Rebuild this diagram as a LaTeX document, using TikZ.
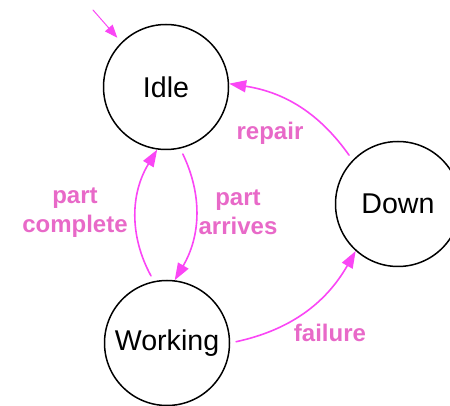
\documentclass[tikz,border=0pt]{standalone}
\usepackage{fontspec}
\setmainfont{Liberation Sans}
\usetikzlibrary{arrows.meta}
\definecolor{arccol}{RGB}{250,70,245}
\definecolor{labcol}{RGB}{232,105,200}
\tikzset{
  state/.style={circle, draw, line width=0.75pt, minimum size=62.5pt, inner sep=0pt,
    font=\fontsize{14.3}{17}\selectfont},
  arc/.style={arccol, line width=0.8pt, shorten <=3pt, -{Triangle[length=8.5pt,width=6pt]}},
  lab/.style={labcol, align=center, font=\fontsize{12}{14.5}\selectfont\bfseries}
}
\begin{document}
\begin{tikzpicture}[x=0.5pt, y=-0.5pt, line join=round, line cap=round]
\useasboundingbox (0,0) rectangle (450,406);
% states
\node[state] (idle) at (166,87) {Idle};
\node[state] (working) at (167,343) {Working};
\node[state] (down) at (398,204) {Down};
% initial arrow
\coordinate (init) at (93,10);
\draw[arccol, line width=0.5pt, shorten >=3pt, -{Triangle[length=6.5pt,width=5pt]}] (init) -- (idle.135);
% transitions
\draw[arc] (working.102) to[bend left=30] (idle.262);
\draw[arc] (idle.283) to[bend left=28] (working.83);
\draw[arc] (down.136) to[bend right=23] (idle.3);
\draw[arc] (working.0) to[bend right=24] (down.228);
% labels
\node[lab] (lcomplete) at (75,213) {part\\complete};
\node[lab] (larrives) at (238,212) {part\\arrives};
\node[lab] (lrepair) at (270,133) {repair};
\node[lab] (lfailure) at (330,333) {failure};
\end{tikzpicture}
\end{document}
